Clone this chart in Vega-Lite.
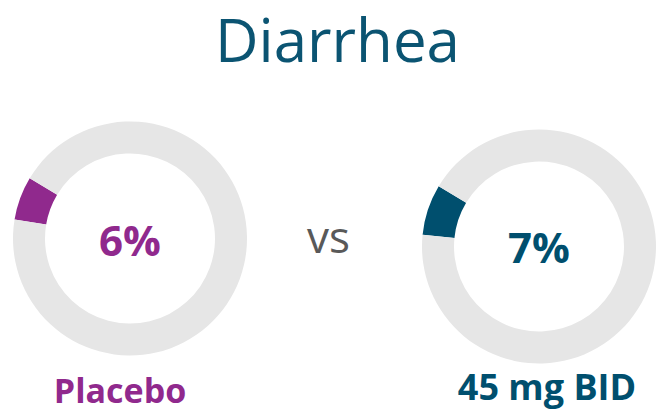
{
  "$schema": "https://vega.github.io/schema/vega-lite/v6.json",
  "width": 656,
  "height": 411,
  "autosize": {"type": "fit", "contains": "padding"},
  "padding": 0,
  "background": "white",
  "view": {"stroke": null},
  "config": {"font": "Open Sans"},
  "data": {
    "values": [
      {"group": "Placebo", "part": "event", "value": 6},
      {"group": "Placebo", "part": "rest", "value": 94},
      {"group": "45 mg BID", "part": "event", "value": 7},
      {"group": "45 mg BID", "part": "rest", "value": 93}
    ]
  },
  "transform": [
    {"stack": "value", "groupby": ["group"], "sort": [{"field": "part", "order": "descending"}], "as": ["v0", "v1"]},
    {"calculate": "datum.value + '%'", "as": "pct"}
  ],
  "encoding": {
    "x": {"field": "group", "type": "nominal", "scale": {"type": "point", "domain": ["Placebo", "vs", "45 mg BID"], "range": [130, 539], "padding": 0}, "axis": null},
    "y": {"datum": "donut", "type": "nominal", "scale": {"type": "point", "domain": ["title", "donut", "label"], "range": [74.3, 402.7], "padding": 0}, "axis": null}
  },
  "layer": [
    {
      "transform": [{"filter": "datum.group === 'Placebo'"}],
      "mark": {"type": "arc", "radius": 117, "radius2": 85},
      "encoding": {
        "theta": {"field": "v0", "type": "quantitative", "scale": {"domain": [0, 100], "range": [-1.0297, 5.2534]}},
        "theta2": {"field": "v1"},
        "color": {"condition": {"test": "datum.part === 'rest'", "value": "#e6e6e6"}, "field": "group", "type": "nominal", "scale": {"domain": ["Placebo", "45 mg BID"], "range": ["#90298d", "#004f6e"]}, "legend": null}
      }
    },
    {
      "transform": [{"filter": "datum.group === '45 mg BID'"}],
      "mark": {"type": "arc", "radius": 117, "radius2": 85, "yOffset": 8},
      "encoding": {
        "theta": {"field": "v0", "type": "quantitative", "scale": {"domain": [0, 100], "range": [-1.0297, 5.2534]}},
        "theta2": {"field": "v1"},
        "color": {"condition": {"test": "datum.part === 'rest'", "value": "#e6e6e6"}, "field": "group", "type": "nominal", "legend": null}
      }
    },
    {
      "transform": [{"filter": "datum.part === 'event' && datum.group === 'Placebo'"}],
      "mark": {"type": "text", "fontSize": 42, "fontWeight": "bold", "align": "center", "baseline": "alphabetic", "dy": 17},
      "encoding": {
        "text": {"field": "pct"},
        "color": {"field": "group", "type": "nominal", "legend": null}
      }
    },
    {
      "transform": [{"filter": "datum.part === 'event' && datum.group === '45 mg BID'"}],
      "mark": {"type": "text", "fontSize": 42, "fontWeight": "bold", "align": "center", "baseline": "alphabetic", "dy": 24.5},
      "encoding": {
        "text": {"field": "pct"},
        "color": {"field": "group", "type": "nominal", "legend": null}
      }
    },
    {
      "transform": [{"filter": "datum.part === 'event' && datum.group === 'Placebo'"}],
      "mark": {"type": "text", "fontSize": 34, "fontWeight": "bold", "align": "center", "baseline": "alphabetic", "dx": -10},
      "encoding": {
        "y": {"datum": "label", "type": "nominal"},
        "text": {"field": "group"},
        "color": {"field": "group", "type": "nominal", "legend": null}
      }
    },
    {
      "transform": [{"filter": "datum.part === 'event' && datum.group === '45 mg BID'"}],
      "mark": {"type": "text", "fontSize": 36, "fontWeight": "bold", "align": "center", "baseline": "alphabetic", "dx": 8, "dy": -2.7},
      "encoding": {
        "y": {"datum": "label", "type": "nominal"},
        "text": {"field": "group"},
        "color": {"field": "group", "type": "nominal", "legend": null}
      }
    },
    {
      "data": {"values": [{"word": "vs"}]},
      "mark": {"type": "text", "fontSize": 44, "align": "center", "baseline": "alphabetic", "color": "#595959", "dx": -6, "dy": 14},
      "encoding": {
        "x": {"datum": "vs", "type": "nominal"},
        "y": {"datum": "donut", "type": "nominal"},
        "text": {"field": "word"}
      }
    },
    {
      "data": {"values": [{"heading": "Diarrhea"}]},
      "mark": {"type": "text", "fontSize": 60, "align": "center", "baseline": "alphabetic", "color": "#0b5472", "dx": 3, "dy": -12.6},
      "encoding": {
        "x": {"datum": "vs", "type": "nominal"},
        "y": {"datum": "title", "type": "nominal"},
        "text": {"field": "heading"}
      }
    }
  ]
}
